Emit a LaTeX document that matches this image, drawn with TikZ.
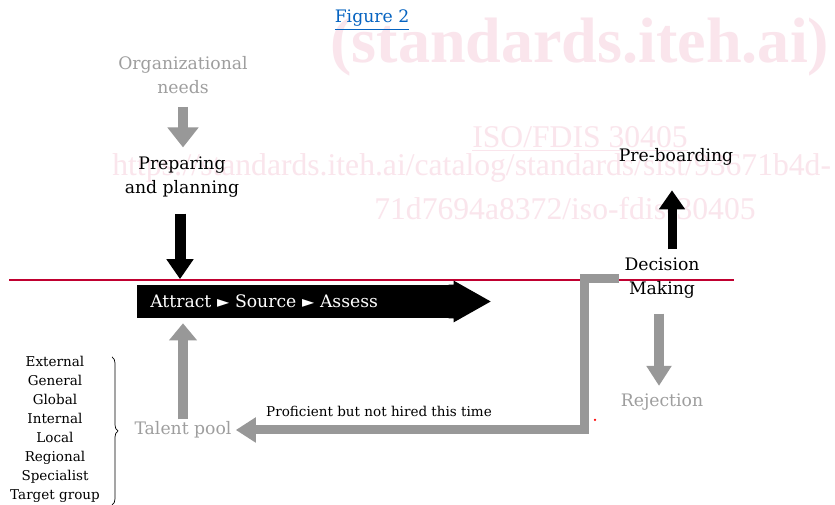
\documentclass[tikz,border=0pt]{standalone}
\usepackage{fontspec}
\setmainfont{DejaVu Serif}
\newfontfamily\wmfont{Liberation Serif}
\newfontfamily\symfont{DejaVu Sans}
\usepackage{tikz}
\usetikzlibrary{arrows.meta}
\usetikzlibrary{calc}
\usetikzlibrary{decorations.pathreplacing}
\definecolor{arrowgray}{RGB}{152,152,152}
\definecolor{textgray}{RGB}{158,158,158}
\definecolor{linered}{RGB}{192,0,48}
\definecolor{wmpink}{RGB}{250,229,236}
\definecolor{figblue}{RGB}{5,99,193}
\newcommand{\tri}{{\symfont\small ►}}

\begin{document}
\begin{tikzpicture}[x=0.2mm,y=0.2mm,
    lbl/.style={inner sep=0pt, align=center, font=\fontsize{9.8}{13.6}\selectfont},
    graylbl/.style={lbl, text=textgray},
    small/.style={inner sep=0pt, align=center, font=\fontsize{7.7}{10.8}\selectfont},
    wm/.style={inner sep=0pt, text=wmpink, font=\wmfont\fontsize{18}{20}\selectfont},
    grayarrow/.style={draw=arrowgray, line width=2mm, -{Triangle[length=4mm,width=6mm]}},
    blackarrow/.style={draw=black, line width=2.2mm, -{Triangle[length=4mm,width=5.2mm]}},
    backline/.style={draw=arrowgray, line width=1.8mm, -{Triangle[length=4mm,width=4.8mm]}}]
\useasboundingbox (0,0) rectangle (835,505);
\fill[white] (0,0) rectangle (835,505);

\node[wm, anchor=base west, font=\wmfont\bfseries\fontsize{36.5}{40}\selectfont] (wmtitle) at (330,442) {(standards.iteh.ai)};
\node[wm, anchor=base west] (wmiso) at (472,357) {\underline{ISO/FDIS 30405}};
\node[wm, anchor=base west] (wmurla) at (112,329) {https://standards.iteh.ai/catalog/standards/sist/93671b4d-};
\node[wm, anchor=base] (wmurlb) at (565,285) {71d7694a8372/iso-fdis-30405};

\node[lbl, text=figblue] (fig) at (372,485) {\underline{Figure 2}};
\draw[linered, line width=0.8pt] (9,225) -- (734,225);

\node[graylbl] (orgneeds) at (183,430) {Organizational\\needs};
\node[lbl] (prep) at (182,328) {Preparing\\and planning};
\node[lbl, anchor=west, fill=black, text=white, inner xsep=2.6mm, minimum height=6.6mm,
      text width=58mm, align=left] (proc) at (137,203.5) {Attract \tri{} Source \tri{} Assess};
\fill ([yshift=0.8mm]proc.north east) -- ([xshift=7.4mm]proc.east) -- ([yshift=-0.8mm]proc.south east)
    -- (proc.south east) -- ([xshift=-1mm]proc.south east) -- ([xshift=-1mm]proc.north east) -- (proc.north east) -- cycle;
\node[graylbl] (talent) at (183,75) {Talent pool};
\node[small] (pools) at (55,75.5) {External\\General\\Global\\Internal\\Local\\Regional\\Specialist\\Target group};
\draw[decorate, decoration={brace, amplitude=1.2mm}] (112,148) -- (112,0);
\node[lbl] (decision) at (662,227) {Decision\\Making};
\node[lbl] (preboard) at (676,348) {Pre-boarding};
\node[graylbl] (reject) at (662,103) {Rejection};
\node[small] (reason) at (379,94) {Proficient but not hired this time};

\draw[grayarrow, shorten <=2.6mm, shorten >=1.8mm] (orgneeds.south) -- (orgneeds.south |- prep.north);
\draw[blackarrow, shorten <=3.2mm, shorten >=1.1mm] ([xshift=-0.4mm]prep.south) -- ([xshift=-0.4mm]prep.south |- proc.north);
\draw[grayarrow, -{Triangle[length=3.4mm,width=5.4mm]}, shorten <=0.4mm, shorten >=1mm] (talent.north) -- (talent.north |- proc.south);
\draw[backline, shorten <=1mm, shorten >=0.8mm] ([yshift=-0.2mm]decision.west) -- ++(-40,0) |- (talent.east);
\draw[blackarrow, line width=1.8mm, -{Triangle[length=3.8mm,width=5mm]}, shorten <=1.6mm, shorten >=4.9mm]
    ([xshift=2mm]decision.north) -- ([xshift=2mm]decision.north |- preboard.south);
\draw[grayarrow, -{Triangle[length=4mm,width=4.8mm]}, shorten <=3mm, shorten >=1.5mm]
    ([xshift=-0.6mm]decision.south) -- ([xshift=-0.6mm]decision.south |- reject.north);
\fill[red] (595,85) circle (0.25mm);
\end{tikzpicture}
\end{document}
